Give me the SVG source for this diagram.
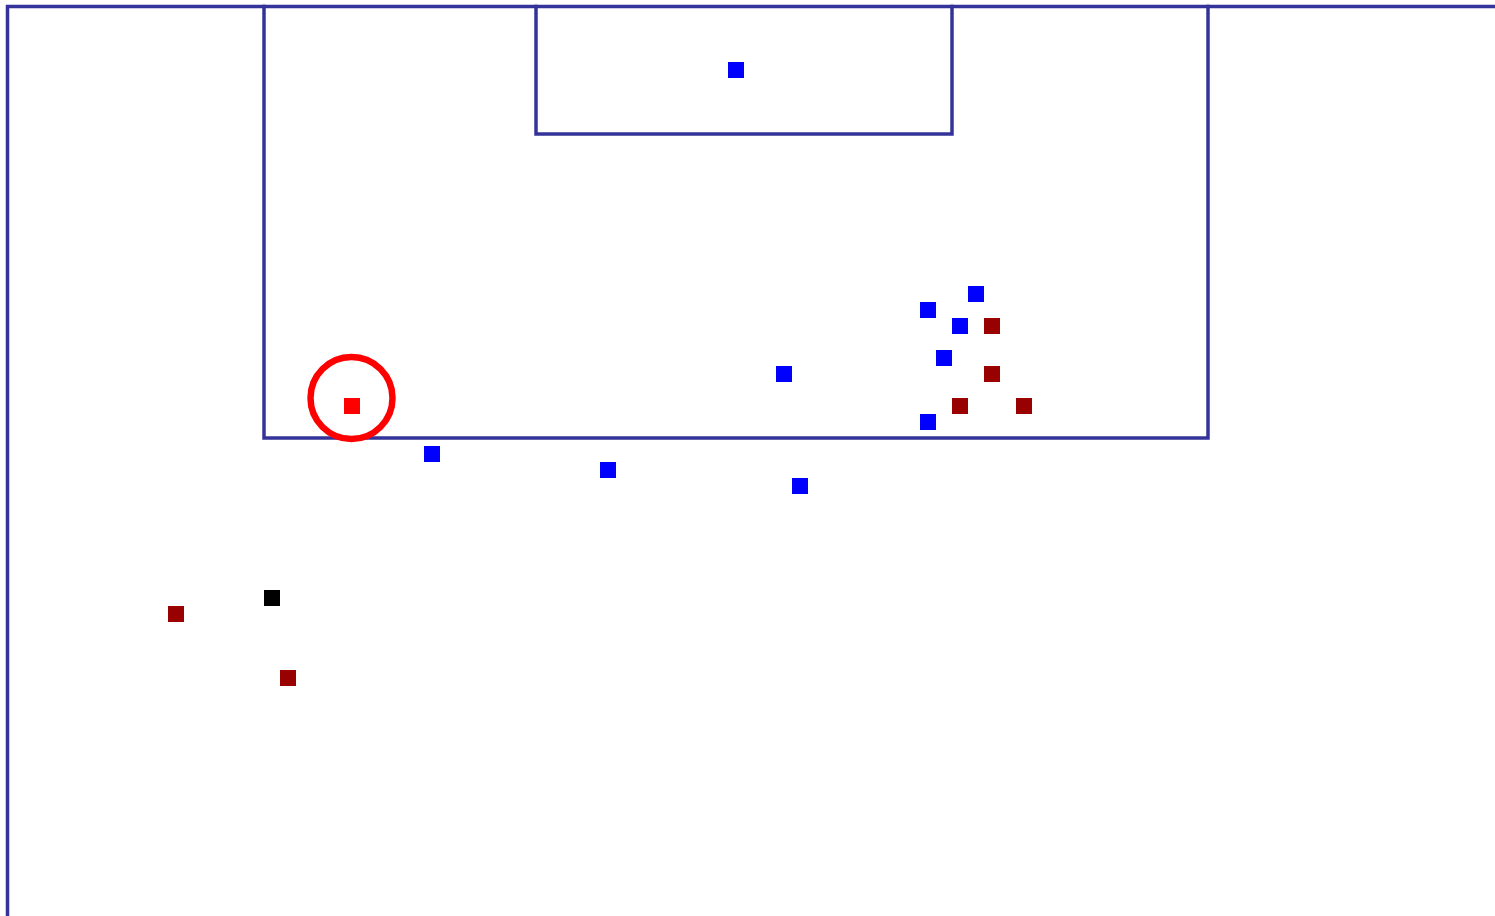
<svg xmlns="http://www.w3.org/2000/svg" width="1495" height="916" viewBox="0 0 1495 916">
<style>
.line{stroke:#333399;stroke-width:3.5;fill:none;stroke-linecap:square}
.blue{fill:#0000ff}
.red{fill:#990000}
.black{fill:#000000}
.hl{fill:#ff0000}
</style>
<rect width="1495" height="916" fill="#ffffff"/>
<g id="pitch">
<path class="line" d="M7.5,916 V6.5 H1495"/>
<path class="line" d="M264,6.5 V438 H1208 V6.5"/>
<path class="line" d="M536,6.5 V134 H952 V6.5"/>
</g>
<g id="players">
<rect class="blue" x="728" y="62" width="16" height="16"/>
<rect class="blue" x="968" y="286" width="16" height="16"/>
<rect class="blue" x="920" y="302" width="16" height="16"/>
<rect class="blue" x="952" y="318" width="16" height="16"/>
<rect class="red" x="984" y="318" width="16" height="16"/>
<rect class="blue" x="936" y="350" width="16" height="16"/>
<rect class="blue" x="776" y="366" width="16" height="16"/>
<rect class="red" x="984" y="366" width="16" height="16"/>
<rect class="red" x="952" y="398" width="16" height="16"/>
<rect class="red" x="1016" y="398" width="16" height="16"/>
<rect class="blue" x="920" y="414" width="16" height="16"/>
<rect class="blue" x="424" y="446" width="16" height="16"/>
<rect class="blue" x="600" y="462" width="16" height="16"/>
<rect class="blue" x="792" y="478" width="16" height="16"/>
<rect class="black" x="264" y="590" width="16" height="16"/>
<rect class="red" x="168" y="606" width="16" height="16"/>
<rect class="red" x="280" y="670" width="16" height="16"/>
<rect class="hl" x="344" y="398" width="16" height="16"/>
<circle cx="351.5" cy="398" r="41" fill="none" stroke="#ff0000" stroke-width="6.5"/>
</g>
</svg>
